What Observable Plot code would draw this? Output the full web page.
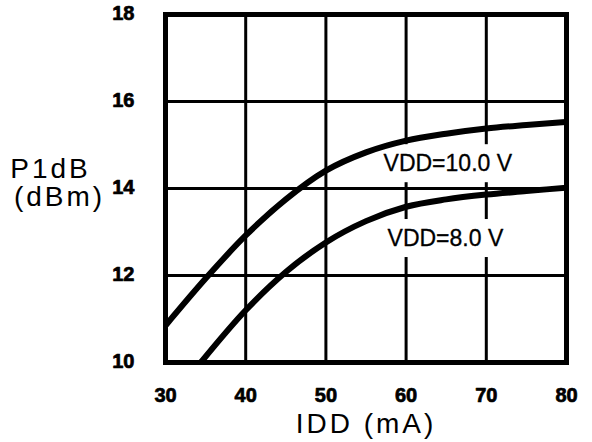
<!DOCTYPE html>
<html>
<head>
<meta charset="utf-8">
<script src="https://cdn.jsdelivr.net/npm/d3@7"></script>
<script src="https://cdn.jsdelivr.net/npm/@observablehq/plot@0.6"></script>
<style>
  html, body { margin: 0; padding: 0; background: #fff; }
  svg { font-family: "Liberation Sans", Arial, Helvetica, sans-serif; }
</style>
</head>
<body>
<div id="chart"></div>
<script>
const xTicks = [30, 40, 50, 60, 70, 80];
const yTicks = [10, 12, 14, 16, 18];
const xGrid = [40, 50, 60, 70];
const yGrid = [12, 14, 16];

const idd10 = [30, 35, 40, 45, 50, 55, 60, 65, 70, 75, 80];
const p1db10 = [10.85, 11.93, 12.92, 13.75, 14.41, 14.83, 15.1, 15.26, 15.38, 15.46, 15.53];
const idd8 = [34.4, 40, 45, 50, 55, 60, 65, 70, 75, 80];
const p1db8 = [10.0, 11.2, 12.08, 12.76, 13.25, 13.58, 13.75, 13.86, 13.94, 14.02];

const curveLabels = ["VDD=10.0 V", "VDD=8.0 V"];
const labelX = [65.2, 64.9];
const labelY = [14.57, 12.85];

const xTitle = "IDD (mA)";
const yTitle = ["P1dB", "(dBm)"];

const series = [
  ...idd10.map((x, i) => ({x, y: p1db10[i], s: "10"})),
  ...idd8.map((x, i) => ({x, y: p1db8[i], s: "8"}))
];
const labels = curveLabels.map((t, i) => ({t, x: labelX[i], y: labelY[i]}));

const tickStyle = {fontSize: 20, fontWeight: "bold", fill: "#000", stroke: "#000", strokeWidth: 0.7};
const titleStyle = {fontSize: 28, fill: "#000", textAnchor: "middle", lineAnchor: "middle"};

const chart = Plot.plot({
  width: 592,
  height: 442,
  marginLeft: 165,
  marginRight: 26,
  marginTop: 14,
  marginBottom: 80,
  x: {domain: [30, 80], axis: null},
  y: {domain: [10, 18], axis: null},
  marks: [
    Plot.ruleX(xGrid, {stroke: "#000", strokeWidth: 3}),
    Plot.ruleY(yGrid, {stroke: "#000", strokeWidth: 3}),
    // white boxes behind the curve labels, masking the grid as in the reference
    Plot.rect(labels, {x1: "x", x2: "x", y1: "y", y2: "y", insetLeft: -67, insetRight: -67, insetTop: -19, insetBottom: -19, fill: "#fff"}),
    Plot.line(series, {x: "x", y: "y", z: "s", curve: "monotone-x", stroke: "#000", strokeWidth: 6, clip: true}),
    Plot.frame({stroke: "#000", strokeWidth: 5}),
    Plot.text(xTicks, {x: d => d, frameAnchor: "bottom", lineAnchor: "middle", textAnchor: "middle", dy: 33, text: d => String(d), ...tickStyle}),
    Plot.text(yTicks, {y: d => d, frameAnchor: "left", lineAnchor: "middle", textAnchor: "end", dx: -31, dy: -1, text: d => String(d), ...tickStyle}),
    Plot.text(labels, {x: "x", y: "y", text: "t", fontSize: 23, fill: "#000", stroke: "#000", strokeWidth: 0.3}),
    Plot.text([xTitle], {frameAnchor: "bottom", dy: 62, text: d => d, ...titleStyle}),
    Plot.text([yTitle[0]], {frameAnchor: "left", dx: -115, dy: -19, text: d => d, ...titleStyle}),
    Plot.text([yTitle[1]], {frameAnchor: "left", dx: -106, dy: 9, text: d => d, ...titleStyle})
  ]
});
d3.select(chart).selectAll("text")
  .filter(function() { return [xTitle, ...yTitle].includes(this.textContent); })
  .attr("letter-spacing", "3px");
document.getElementById("chart").appendChild(chart);
</script>
</body>
</html>
